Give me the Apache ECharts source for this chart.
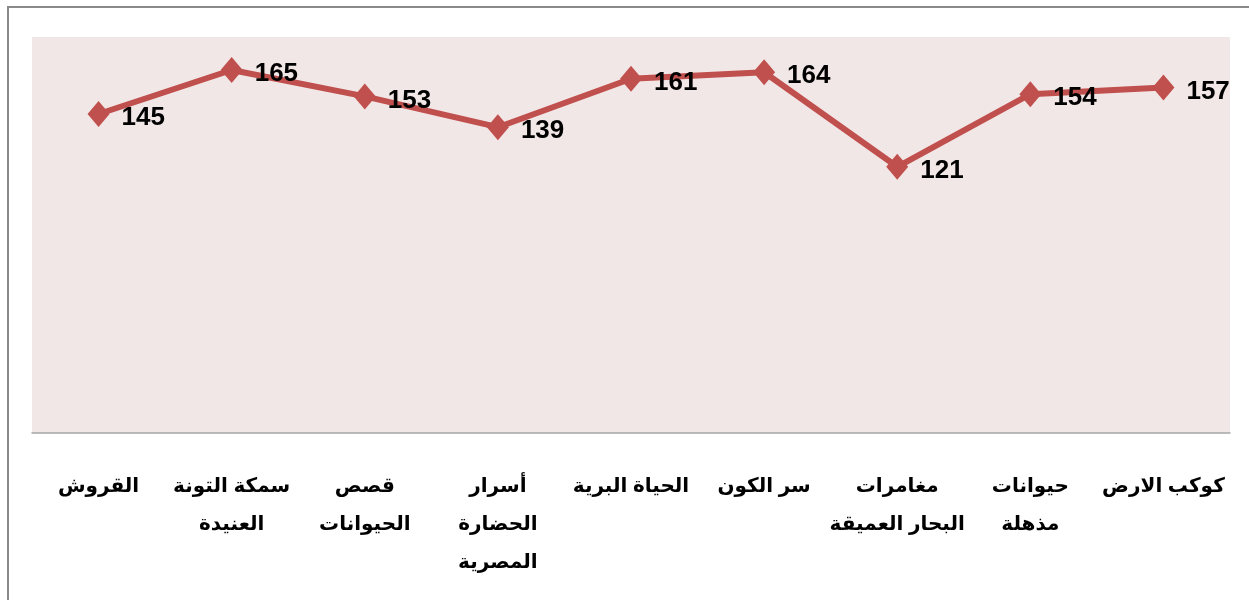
<!DOCTYPE html>
<html><head><meta charset="utf-8">
<script src="https://cdn.jsdelivr.net/npm/echarts@6/dist/echarts.min.js"></script>
<style>html,body{margin:0;padding:0;background:#fff}#c{width:1249px;height:600px}</style>
</head><body><div id="c"></div>
<script>
const categories = ["القروش","سمكة التونة\nالعنيدة","قصص\nالحيوانات","أسرار\nالحضارة\nالمصرية","الحياة البرية","سر الكون","مغامرات\nالبحار العميقة","حيوانات\nمذهلة","كوكب الارض"];
const values = [145,165,153,139,161,164,121,154,157];
const yMin = 0, yMax = 180;

const chart = echarts.init(document.getElementById('c'));
chart.setOption({
  animation:false,
  backgroundColor:'#fff',
  graphic:[{type:'rect',shape:{x:8,y:7,width:1400,height:800},style:{fill:'none',stroke:'#8a8a8a',lineWidth:2},z:-1}],
  grid:{left:32,right:19,top:37,bottom:167,show:true,backgroundColor:'#F2E7E7',borderWidth:0},
  xAxis:{type:'category',data:categories,boundaryGap:true,
    axisLine:{lineStyle:{color:'#A6A6A6',width:1.5}},axisTick:{show:false},
    axisLabel:{interval:0,margin:34,color:'#000',fontWeight:'bold',fontSize:20,lineHeight:38,fontFamily:'"Liberation Sans", "DejaVu Sans", sans-serif'}},
  yAxis:{type:'value',min:yMin,max:yMax,show:false,splitLine:{show:false}},
  series:[{type:'line',data:values,symbol:'diamond',symbolSize:[22,26],
    lineStyle:{color:'#C0504D',width:6},itemStyle:{color:'#C0504D'},
    label:{show:true,position:'right',distance:12,offset:[0,4],color:'#000',fontWeight:'bold',fontSize:26,fontFamily:'"Liberation Sans Narrow", "Liberation Sans", sans-serif'}}]
});
</script></body></html>
